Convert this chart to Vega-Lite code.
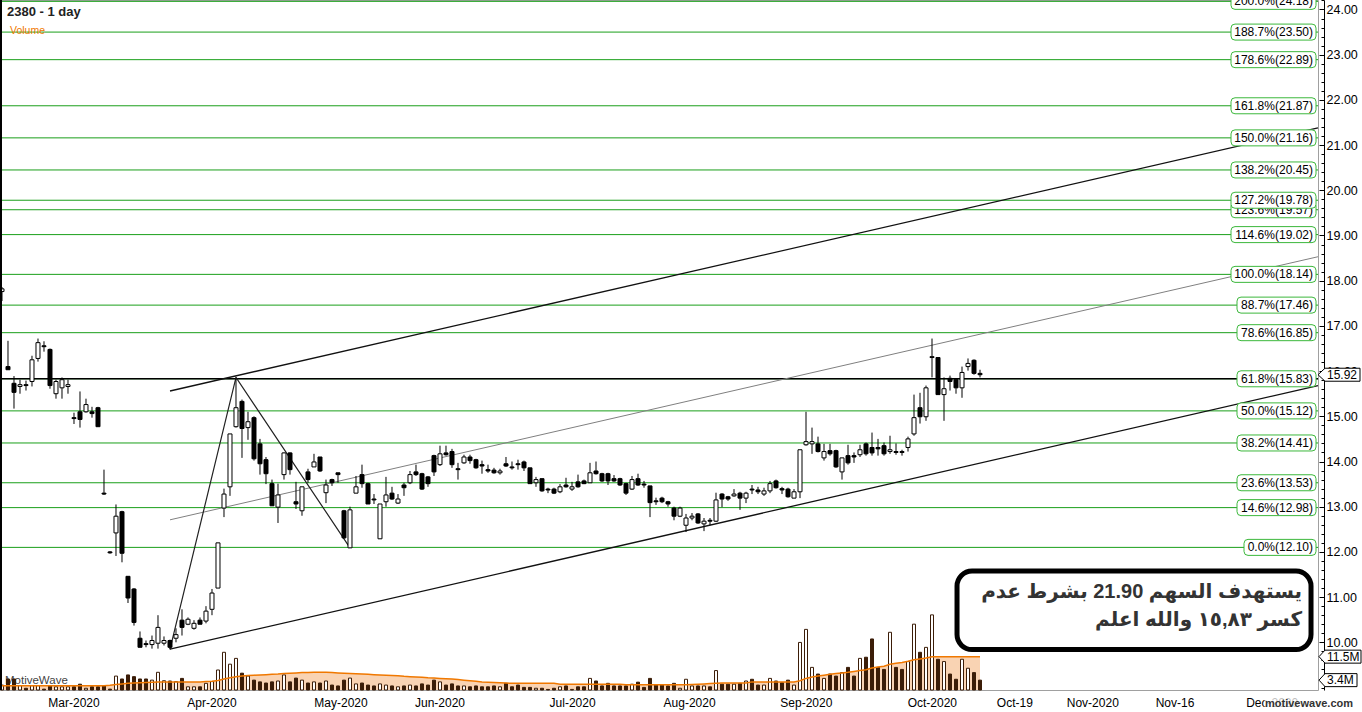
{
"$schema": "https://vega.github.io/schema/vega-lite/v6.json",
"width": 1318, "height": 690,
"autosize": {"type": "none"},
"padding": {"left": 0, "top": 0, "right": 44, "bottom": 22},
"background": "white",
"config": {"font": "Liberation Sans", "view": {"stroke": "#a0a0a0", "strokeWidth": 1}, "scale": {"continuousPadding": 0}},
"datasets": {
"one": [{}],
"bars": [
{"i":0,"o":17.76,"h":17.86,"l":17.55,"c":17.82,"v":1.7,"ma":1.5},
{"i":1,"o":16.10,"h":16.67,"l":16.03,"c":16.03,"v":3.8,"ma":1.5},
{"i":2,"o":15.73,"h":15.89,"l":15.17,"c":15.53,"v":3.8,"ma":1.5},
{"i":3,"o":15.66,"h":15.81,"l":15.50,"c":15.70,"v":1.5,"ma":1.5},
{"i":4,"o":15.70,"h":15.79,"l":15.57,"c":15.68,"v":0.6,"ma":1.5},
{"i":5,"o":15.77,"h":16.34,"l":15.66,"c":16.25,"v":1.5,"ma":1.5},
{"i":6,"o":16.28,"h":16.72,"l":16.21,"c":16.63,"v":1.5,"ma":1.5},
{"i":7,"o":16.56,"h":16.66,"l":16.43,"c":16.54,"v":0.3,"ma":1.5},
{"i":8,"o":16.48,"h":16.50,"l":15.61,"c":15.68,"v":1.5,"ma":1.5},
{"i":9,"o":15.50,"h":15.81,"l":15.39,"c":15.77,"v":1.1,"ma":1.5},
{"i":10,"o":15.63,"h":15.86,"l":15.39,"c":15.81,"v":1.1,"ma":1.5},
{"i":11,"o":15.66,"h":15.81,"l":15.50,"c":15.70,"v":1.1,"ma":1.5},
{"i":12,"o":14.97,"h":15.08,"l":14.83,"c":14.95,"v":1.1,"ma":1.5},
{"i":13,"o":15.10,"h":15.55,"l":14.75,"c":14.93,"v":2.0,"ma":1.5},
{"i":14,"o":15.10,"h":15.39,"l":15.08,"c":15.26,"v":0.6,"ma":1.5},
{"i":15,"o":15.10,"h":15.21,"l":14.97,"c":15.06,"v":1.1,"ma":1.5},
{"i":16,"o":15.19,"h":15.21,"l":14.77,"c":14.77,"v":1.1,"ma":1.5},
{"i":17,"o":13.30,"h":13.82,"l":13.26,"c":13.28,"v":1.5,"ma":1.5},
{"i":18,"o":12.00,"h":12.02,"l":11.96,"c":11.98,"v":0.3,"ma":1.6},
{"i":19,"o":12.42,"h":13.05,"l":11.91,"c":12.79,"v":4.8,"ma":1.9},
{"i":20,"o":12.89,"h":12.91,"l":11.77,"c":11.97,"v":3.8,"ma":2.1},
{"i":21,"o":11.46,"h":11.46,"l":10.87,"c":10.98,"v":5.2,"ma":2.3},
{"i":22,"o":11.18,"h":11.20,"l":10.37,"c":10.44,"v":4.6,"ma":2.4},
{"i":23,"o":10.09,"h":10.24,"l":9.89,"c":9.89,"v":3.8,"ma":2.5},
{"i":24,"o":9.97,"h":10.04,"l":9.89,"c":9.95,"v":3.8,"ma":2.6},
{"i":25,"o":9.95,"h":10.15,"l":9.86,"c":10.04,"v":3.4,"ma":2.7},
{"i":26,"o":9.98,"h":10.60,"l":9.86,"c":10.33,"v":6.1,"ma":2.8},
{"i":27,"o":9.98,"h":10.13,"l":9.93,"c":10.04,"v":3.2,"ma":2.8},
{"i":28,"o":10.04,"h":10.06,"l":9.84,"c":9.89,"v":3.1,"ma":2.8},
{"i":29,"o":10.09,"h":10.31,"l":10.00,"c":10.17,"v":2.9,"ma":2.8},
{"i":30,"o":10.49,"h":10.73,"l":10.15,"c":10.33,"v":4.0,"ma":2.8},
{"i":31,"o":10.40,"h":10.55,"l":10.38,"c":10.51,"v":1.1,"ma":2.8},
{"i":32,"o":10.31,"h":10.49,"l":10.28,"c":10.42,"v":1.1,"ma":2.8},
{"i":33,"o":10.49,"h":10.55,"l":10.40,"c":10.40,"v":1.1,"ma":2.8},
{"i":34,"o":10.47,"h":10.80,"l":10.42,"c":10.69,"v":2.3,"ma":2.9},
{"i":35,"o":10.73,"h":11.18,"l":10.60,"c":11.09,"v":2.9,"ma":3.0},
{"i":36,"o":11.20,"h":12.20,"l":11.20,"c":12.20,"v":6.9,"ma":3.3},
{"i":37,"o":12.97,"h":13.40,"l":12.77,"c":13.28,"v":13.0,"ma":3.8},
{"i":38,"o":13.44,"h":14.61,"l":13.24,"c":14.61,"v":8.9,"ma":4.2},
{"i":39,"o":14.77,"h":15.86,"l":14.75,"c":15.19,"v":10.9,"ma":4.6},
{"i":40,"o":15.33,"h":15.37,"l":14.08,"c":14.73,"v":5.8,"ma":4.8},
{"i":41,"o":14.75,"h":15.10,"l":14.48,"c":14.88,"v":4.8,"ma":5.0},
{"i":42,"o":14.97,"h":15.00,"l":14.02,"c":14.06,"v":3.4,"ma":5.1},
{"i":43,"o":14.39,"h":14.50,"l":13.71,"c":13.95,"v":2.8,"ma":5.2},
{"i":44,"o":14.04,"h":14.10,"l":13.50,"c":13.73,"v":2.4,"ma":5.3},
{"i":45,"o":13.51,"h":13.60,"l":13.02,"c":13.02,"v":2.8,"ma":5.4},
{"i":46,"o":12.99,"h":13.51,"l":12.64,"c":13.26,"v":3.1,"ma":5.5},
{"i":47,"o":13.71,"h":14.20,"l":13.60,"c":14.19,"v":5.2,"ma":5.7},
{"i":48,"o":14.19,"h":14.20,"l":13.71,"c":13.82,"v":2.8,"ma":5.8},
{"i":49,"o":13.11,"h":13.55,"l":12.95,"c":13.06,"v":4.1,"ma":5.9},
{"i":50,"o":12.91,"h":13.44,"l":12.80,"c":13.44,"v":3.4,"ma":6.0},
{"i":51,"o":13.77,"h":13.84,"l":13.53,"c":13.60,"v":2.4,"ma":6.0},
{"i":52,"o":13.88,"h":14.17,"l":13.88,"c":13.99,"v":2.8,"ma":6.1},
{"i":53,"o":14.10,"h":14.10,"l":13.77,"c":13.79,"v":2.4,"ma":6.1},
{"i":54,"o":13.31,"h":13.60,"l":13.08,"c":13.48,"v":3.1,"ma":6.1},
{"i":55,"o":13.60,"h":13.62,"l":13.46,"c":13.53,"v":1.7,"ma":6.0},
{"i":56,"o":13.75,"h":13.75,"l":13.53,"c":13.71,"v":1.4,"ma":5.9},
{"i":57,"o":12.91,"h":12.93,"l":12.29,"c":12.31,"v":3.4,"ma":5.8},
{"i":58,"o":12.09,"h":13.00,"l":12.09,"c":12.93,"v":4.1,"ma":5.7},
{"i":59,"o":13.30,"h":13.68,"l":13.30,"c":13.44,"v":2.1,"ma":5.6},
{"i":60,"o":13.71,"h":13.93,"l":13.42,"c":13.51,"v":2.4,"ma":5.5},
{"i":61,"o":13.51,"h":13.53,"l":13.06,"c":13.06,"v":1.7,"ma":5.4},
{"i":62,"o":13.17,"h":13.28,"l":13.06,"c":13.15,"v":1.4,"ma":5.3},
{"i":63,"o":12.29,"h":13.06,"l":12.29,"c":13.06,"v":2.1,"ma":5.2},
{"i":64,"o":13.11,"h":13.66,"l":13.00,"c":13.26,"v":1.7,"ma":5.1},
{"i":65,"o":13.30,"h":13.44,"l":13.15,"c":13.17,"v":1.4,"ma":5.0},
{"i":66,"o":13.08,"h":13.28,"l":13.06,"c":13.17,"v":1.1,"ma":4.9},
{"i":67,"o":13.48,"h":13.53,"l":13.24,"c":13.42,"v":1.4,"ma":4.7},
{"i":68,"o":13.53,"h":13.79,"l":13.50,"c":13.71,"v":1.7,"ma":4.6},
{"i":69,"o":13.77,"h":13.93,"l":13.68,"c":13.71,"v":1.4,"ma":4.5},
{"i":70,"o":13.73,"h":13.75,"l":13.37,"c":13.39,"v":2.1,"ma":4.4},
{"i":71,"o":13.66,"h":13.68,"l":13.44,"c":13.51,"v":1.7,"ma":4.2},
{"i":72,"o":14.13,"h":14.15,"l":13.68,"c":13.77,"v":3.4,"ma":4.1},
{"i":73,"o":13.93,"h":14.35,"l":13.90,"c":14.17,"v":2.8,"ma":4.0},
{"i":74,"o":14.19,"h":14.35,"l":14.13,"c":14.15,"v":1.7,"ma":3.9},
{"i":75,"o":14.22,"h":14.28,"l":13.86,"c":13.93,"v":2.1,"ma":3.8},
{"i":76,"o":13.84,"h":13.97,"l":13.60,"c":13.82,"v":1.4,"ma":3.6},
{"i":77,"o":13.97,"h":14.15,"l":13.95,"c":14.10,"v":1.4,"ma":3.4},
{"i":78,"o":14.10,"h":14.15,"l":13.95,"c":14.02,"v":1.1,"ma":3.2},
{"i":79,"o":14.04,"h":14.06,"l":13.84,"c":13.86,"v":1.4,"ma":3.0},
{"i":80,"o":13.93,"h":14.02,"l":13.73,"c":13.90,"v":1.1,"ma":2.8},
{"i":81,"o":13.82,"h":13.93,"l":13.75,"c":13.79,"v":1.1,"ma":2.7},
{"i":82,"o":13.81,"h":13.86,"l":13.73,"c":13.75,"v":1.4,"ma":2.6},
{"i":83,"o":13.75,"h":13.84,"l":13.71,"c":13.79,"v":1.1,"ma":2.5},
{"i":84,"o":13.95,"h":14.10,"l":13.88,"c":13.90,"v":2.3,"ma":2.4},
{"i":85,"o":13.88,"h":14.00,"l":13.82,"c":13.86,"v":1.1,"ma":2.3},
{"i":86,"o":13.95,"h":14.04,"l":13.82,"c":13.93,"v":1.7,"ma":2.3},
{"i":87,"o":13.99,"h":14.02,"l":13.79,"c":13.86,"v":0.9,"ma":2.3},
{"i":88,"o":13.86,"h":13.86,"l":13.51,"c":13.51,"v":0.9,"ma":2.3},
{"i":89,"o":13.53,"h":13.66,"l":13.44,"c":13.60,"v":0.6,"ma":2.3},
{"i":90,"o":13.62,"h":13.62,"l":13.33,"c":13.35,"v":0.6,"ma":2.3},
{"i":91,"o":13.39,"h":13.42,"l":13.30,"c":13.37,"v":0.2,"ma":2.3},
{"i":92,"o":13.39,"h":13.42,"l":13.28,"c":13.30,"v":0.6,"ma":2.3},
{"i":93,"o":13.33,"h":13.50,"l":13.30,"c":13.44,"v":1.1,"ma":2.0},
{"i":94,"o":13.48,"h":13.64,"l":13.42,"c":13.44,"v":1.4,"ma":2.0},
{"i":95,"o":13.39,"h":13.55,"l":13.35,"c":13.44,"v":0.2,"ma":2.0},
{"i":96,"o":13.55,"h":13.71,"l":13.42,"c":13.44,"v":1.1,"ma":2.0},
{"i":97,"o":13.57,"h":13.60,"l":13.50,"c":13.51,"v":1.1,"ma":2.0},
{"i":98,"o":13.53,"h":13.97,"l":13.53,"c":13.75,"v":4.0,"ma":2.0},
{"i":99,"o":13.79,"h":14.00,"l":13.71,"c":13.73,"v":3.1,"ma":2.0},
{"i":100,"o":13.73,"h":13.75,"l":13.55,"c":13.57,"v":1.4,"ma":2.0},
{"i":101,"o":13.73,"h":13.75,"l":13.48,"c":13.57,"v":2.3,"ma":2.0},
{"i":102,"o":13.62,"h":13.70,"l":13.55,"c":13.57,"v":1.4,"ma":2.0},
{"i":103,"o":13.62,"h":13.64,"l":13.46,"c":13.48,"v":1.4,"ma":2.0},
{"i":104,"o":13.51,"h":13.53,"l":13.26,"c":13.30,"v":1.4,"ma":1.8},
{"i":105,"o":13.39,"h":13.68,"l":13.37,"c":13.60,"v":2.0,"ma":1.8},
{"i":106,"o":13.62,"h":13.73,"l":13.46,"c":13.48,"v":2.7,"ma":1.8},
{"i":107,"o":13.50,"h":13.57,"l":13.42,"c":13.48,"v":0.9,"ma":1.8},
{"i":108,"o":13.46,"h":13.46,"l":12.77,"c":13.09,"v":4.0,"ma":1.8},
{"i":109,"o":13.13,"h":13.20,"l":13.04,"c":13.11,"v":1.7,"ma":1.8},
{"i":110,"o":13.19,"h":13.22,"l":13.08,"c":13.11,"v":1.7,"ma":1.8},
{"i":111,"o":13.11,"h":13.13,"l":13.00,"c":13.06,"v":1.4,"ma":1.8},
{"i":112,"o":12.97,"h":13.00,"l":12.70,"c":12.79,"v":2.3,"ma":1.8},
{"i":113,"o":12.79,"h":13.00,"l":12.77,"c":12.97,"v":0.6,"ma":1.8},
{"i":114,"o":12.59,"h":12.84,"l":12.44,"c":12.75,"v":3.7,"ma":1.8},
{"i":115,"o":12.75,"h":12.86,"l":12.70,"c":12.79,"v":1.4,"ma":1.9},
{"i":116,"o":12.84,"h":12.86,"l":12.62,"c":12.64,"v":1.4,"ma":2.0},
{"i":117,"o":12.62,"h":12.75,"l":12.46,"c":12.68,"v":1.4,"ma":2.1},
{"i":118,"o":12.70,"h":12.75,"l":12.59,"c":12.68,"v":1.1,"ma":2.2},
{"i":119,"o":12.68,"h":13.31,"l":12.66,"c":13.15,"v":6.7,"ma":2.3},
{"i":120,"o":13.28,"h":13.30,"l":12.99,"c":13.17,"v":2.0,"ma":2.4},
{"i":121,"o":13.22,"h":13.24,"l":13.13,"c":13.17,"v":2.0,"ma":2.4},
{"i":122,"o":13.24,"h":13.39,"l":13.22,"c":13.28,"v":2.0,"ma":2.4},
{"i":123,"o":13.30,"h":13.33,"l":12.93,"c":13.19,"v":2.3,"ma":2.4},
{"i":124,"o":13.19,"h":13.33,"l":13.08,"c":13.30,"v":3.1,"ma":2.4},
{"i":125,"o":13.39,"h":13.48,"l":13.28,"c":13.37,"v":3.7,"ma":2.8},
{"i":126,"o":13.37,"h":13.44,"l":13.28,"c":13.33,"v":1.7,"ma":2.8},
{"i":127,"o":13.28,"h":13.42,"l":13.24,"c":13.35,"v":1.7,"ma":2.8},
{"i":128,"o":13.35,"h":13.57,"l":13.30,"c":13.51,"v":4.0,"ma":2.8},
{"i":129,"o":13.57,"h":13.60,"l":13.40,"c":13.42,"v":3.1,"ma":2.8},
{"i":130,"o":13.40,"h":13.44,"l":13.28,"c":13.37,"v":2.5,"ma":2.8},
{"i":131,"o":13.39,"h":13.42,"l":13.20,"c":13.22,"v":3.4,"ma":2.8},
{"i":132,"o":13.19,"h":13.39,"l":13.19,"c":13.33,"v":1.7,"ma":2.8},
{"i":133,"o":13.33,"h":14.26,"l":13.19,"c":14.26,"v":16.4,"ma":3.2},
{"i":134,"o":14.37,"h":15.10,"l":14.35,"c":14.44,"v":20.9,"ma":4.0},
{"i":135,"o":14.39,"h":14.75,"l":14.17,"c":14.44,"v":7.8,"ma":4.5},
{"i":136,"o":14.39,"h":14.55,"l":14.20,"c":14.22,"v":5.5,"ma":4.8},
{"i":137,"o":14.08,"h":14.39,"l":14.02,"c":14.22,"v":4.0,"ma":5.1},
{"i":138,"o":14.24,"h":14.39,"l":14.13,"c":14.17,"v":5.5,"ma":5.4},
{"i":139,"o":14.24,"h":14.26,"l":13.86,"c":13.88,"v":4.8,"ma":5.7},
{"i":140,"o":13.77,"h":14.08,"l":13.60,"c":14.08,"v":6.0,"ma":5.9},
{"i":141,"o":14.13,"h":14.37,"l":13.93,"c":13.97,"v":7.8,"ma":6.1},
{"i":142,"o":14.13,"h":14.20,"l":13.97,"c":14.10,"v":4.8,"ma":6.4},
{"i":143,"o":14.15,"h":14.37,"l":14.10,"c":14.26,"v":10.9,"ma":6.7},
{"i":144,"o":14.39,"h":14.42,"l":14.13,"c":14.17,"v":11.3,"ma":7.0},
{"i":145,"o":14.31,"h":14.64,"l":14.13,"c":14.19,"v":17.6,"ma":7.6},
{"i":146,"o":14.31,"h":14.50,"l":14.13,"c":14.28,"v":7.8,"ma":7.9},
{"i":147,"o":14.35,"h":14.42,"l":14.13,"c":14.17,"v":7.1,"ma":8.2},
{"i":148,"o":14.22,"h":14.57,"l":14.17,"c":14.26,"v":19.9,"ma":8.9},
{"i":149,"o":14.22,"h":14.40,"l":14.15,"c":14.20,"v":7.8,"ma":9.2},
{"i":150,"o":14.22,"h":14.26,"l":14.13,"c":14.20,"v":7.1,"ma":9.5},
{"i":151,"o":14.31,"h":14.55,"l":14.22,"c":14.50,"v":9.8,"ma":9.9},
{"i":152,"o":14.61,"h":15.48,"l":14.57,"c":14.97,"v":22.7,"ma":10.4},
{"i":153,"o":15.19,"h":15.52,"l":14.84,"c":14.99,"v":13.0,"ma":10.7},
{"i":154,"o":14.99,"h":15.68,"l":14.90,"c":15.63,"v":14.7,"ma":11.0},
{"i":155,"o":16.30,"h":16.72,"l":15.86,"c":16.32,"v":25.9,"ma":11.5},
{"i":156,"o":16.30,"h":16.30,"l":15.48,"c":15.48,"v":10.6,"ma":11.5},
{"i":157,"o":15.48,"h":15.86,"l":14.90,"c":15.61,"v":9.8,"ma":11.5},
{"i":158,"o":15.84,"h":15.90,"l":15.57,"c":15.77,"v":5.5,"ma":11.5},
{"i":159,"o":15.81,"h":15.81,"l":15.50,"c":15.63,"v":3.7,"ma":11.5},
{"i":160,"o":15.63,"h":16.10,"l":15.41,"c":15.97,"v":10.6,"ma":11.5},
{"i":161,"o":16.10,"h":16.28,"l":16.01,"c":16.17,"v":7.5,"ma":11.5},
{"i":162,"o":16.24,"h":16.26,"l":15.92,"c":15.95,"v":6.0,"ma":11.5},
{"i":163,"o":15.95,"h":16.03,"l":15.86,"c":15.92,"v":3.4,"ma":11.5}
],
"fib": [
{"p":12.10,"label":"0.0%(12.10)"},
{"p":12.98,"label":"14.6%(12.98)"},
{"p":13.53,"label":"23.6%(13.53)"},
{"p":14.41,"label":"38.2%(14.41)"},
{"p":15.12,"label":"50.0%(15.12)"},
{"p":15.83,"label":"61.8%(15.83)"},
{"p":16.85,"label":"78.6%(16.85)"},
{"p":17.46,"label":"88.7%(17.46)"},
{"p":18.14,"label":"100.0%(18.14)"},
{"p":19.02,"label":"114.6%(19.02)"},
{"p":19.57,"label":"123.6%(19.57)"},
{"p":19.78,"label":"127.2%(19.78)"},
{"p":20.45,"label":"138.2%(20.45)"},
{"p":21.16,"label":"150.0%(21.16)"},
{"p":21.87,"label":"161.8%(21.87)"},
{"p":22.89,"label":"178.6%(22.89)"},
{"p":23.50,"label":"188.7%(23.50)"},
{"p":24.18,"label":"200.0%(24.18)"}
],
"chan": [
{"g":"upper","i":28,"p":15.56},{"g":"upper","i":219.33,"p":21.38},
{"g":"lower","i":28,"p":9.85},{"g":"lower","i":219.33,"p":15.68},
{"g":"mid","i":28,"p":12.71},{"g":"mid","i":219.33,"p":18.53}
],
"zig": [{"i":28,"p":9.85},{"i":39,"p":15.86},{"i":58,"p":12.09}],
"ticks": [
{"t":12,"lab":"Mar-2020"},{"t":35,"lab":"Apr-2020"},{"t":56.5,"lab":"May-2020"},{"t":73,"lab":"Jun-2020"},
{"t":95.1,"lab":"Jul-2020"},{"t":114.6,"lab":"Aug-2020"},{"t":134.05,"lab":"Sep-2020"},{"t":155.05,"lab":"Oct-2020"},
{"t":168.8,"lab":"Oct-19"},{"t":181.8,"lab":"Nov-2020"},{"t":195.5,"lab":"Nov-16"},{"t":211.7,"lab":"Dec-2020"}
]
},
"resolve": {"scale": {"y": "independent"}, "axis": {"y": "independent"}},
"layer": [
{
"layer": [
{"data": {"name": "one"},
 "mark": {"type": "text", "text": "MotiveWave", "align": "left", "baseline": "middle", "fontSize": 11.5, "color": "#444"},
 "encoding": {"x": {"datum": 0.5, "type": "quantitative", "axis": null}, "y": {"datum": 3.1, "type": "quantitative", "axis": null}}},
{"data": {"name": "bars"},
 "mark": {"type": "area", "color": "#f9d3b3", "interpolate": "linear"},
 "encoding": {
  "x": {"field": "i", "type": "quantitative",
   "scale": {"domain": [-0.3333, 219.3333], "nice": false, "zero": false, "padding": 0},
   "axis": {"values": [12,35,56.5,73,95.1,114.6,134.05,155.05,168.8,181.8,195.5,211.7],
    "labels": false, "title": null, "grid": false, "offset": 5, "tickSize": -5,
    "domainColor": "#000", "tickColor": "#000"}},
  "y": {"field": "ma", "type": "quantitative", "scale": {"domain": [0, 237.9], "nice": false, "zero": true}, "axis": null}}},
{"data": {"name": "bars"},
 "mark": {"type": "bar", "size": 3, "stroke": "#3b1d08", "strokeWidth": 1},
 "encoding": {
  "x": {"field": "i", "type": "quantitative", "axis": null},
  "y": {"field": "v", "type": "quantitative", "axis": null},
  "fill": {"condition": {"test": "datum.c >= datum.o", "value": "white"}, "value": "#3b1d08"}}},
{"data": {"name": "bars"},
 "mark": {"type": "line", "color": "#f07800", "strokeWidth": 1.5},
 "encoding": {
  "x": {"field": "i", "type": "quantitative", "axis": null},
  "y": {"field": "ma", "type": "quantitative", "axis": null}}},
{"data": {"name": "one"},
 "mark": {"type": "point", "shape": "M1,0 L7,-6.5 L43,-6.5 L43,6.5 L7,6.5 Z", "size": 4, "filled": true, "fill": "white", "stroke": "#000", "strokeWidth": 1, "opacity": 1},
 "encoding": {"x": {"datum": 219.3333, "type": "quantitative", "axis": null}, "y": {"datum": 11.5, "type": "quantitative", "axis": null}}},
{"data": {"name": "one"},
 "mark": {"type": "text", "text": "11.5M", "align": "left", "baseline": "middle", "dx": 9, "fontSize": 12, "color": "#000"},
 "encoding": {"x": {"datum": 219.3333, "type": "quantitative", "axis": null}, "y": {"datum": 11.5, "type": "quantitative", "axis": null}}},
{"data": {"name": "one"},
 "mark": {"type": "point", "shape": "M1,0 L7,-6.5 L39,-6.5 L39,6.5 L7,6.5 Z", "size": 4, "filled": true, "fill": "white", "stroke": "#000", "strokeWidth": 1, "opacity": 1},
 "encoding": {"x": {"datum": 219.3333, "type": "quantitative", "axis": null}, "y": {"datum": 3.4, "type": "quantitative", "axis": null}}},
{"data": {"name": "one"},
 "mark": {"type": "text", "text": "3.4M", "align": "left", "baseline": "middle", "dx": 9, "fontSize": 12, "color": "#000"},
 "encoding": {"x": {"datum": 219.3333, "type": "quantitative", "axis": null}, "y": {"datum": 3.4, "type": "quantitative", "axis": null}}}
]
},
{
"resolve": {"axis": {"y": "independent"}},
"layer": [
{"data": {"name": "fib"},
 "mark": {"type": "rule", "color": "#1a9f1a", "strokeWidth": 1},
 "encoding": {"y": {"field": "p", "type": "quantitative",
   "scale": {"domain": [8.945, 24.21], "nice": false, "zero": false},
   "axis": {"orient": "right", "values": [10,11,12,13,14,15,16,17,18,19,20,21,22,23,24], "format": ".2f",
    "title": null, "grid": false, "offset": 6, "tickSize": -5, "labelPadding": 7,
    "domainColor": "#000", "tickColor": "#000", "labelColor": "#000", "labelFontSize": 12.5,
    "labelBaseline": "middle", "labelFlush": false, "labelOverlap": false, "labelBound": false}}}},
{"data": {"name": "one"},
 "mark": {"type": "rule", "color": "#000", "strokeWidth": 1.6},
 "encoding": {"y": {"datum": 15.83, "type": "quantitative",
   "axis": {"orient": "right", "values": [9,9.2,9.4,9.6,9.8,10,10.2,10.4,10.6,10.8,11,11.2,11.4,11.6,11.8,12,12.2,12.4,12.6,12.8,13,13.2,13.4,13.6,13.8,14,14.2,14.4,14.6,14.8,15,15.2,15.4,15.6,15.8,16,16.2,16.4,16.6,16.8,17,17.2,17.4,17.6,17.8,18,18.2,18.4,18.6,18.8,19,19.2,19.4,19.6,19.8,20,20.2,20.4,20.6,20.8,21,21.2,21.4,21.6,21.8,22,22.2,22.4,22.6,22.8,23,23.2,23.4,23.6,23.8,24,24.2],
    "labels": false, "domain": false, "title": null, "grid": false, "offset": 6, "tickSize": -3, "tickColor": "#000"}}}},
{"data": {"name": "chan"}, "transform": [{"filter": "datum.g != 'mid'"}],
 "mark": {"type": "line", "color": "#111", "strokeWidth": 1.3},
 "encoding": {"x": {"field": "i", "type": "quantitative", "axis": null}, "y": {"field": "p", "type": "quantitative", "axis": null}, "detail": {"field": "g"}}},
{"data": {"name": "chan"}, "transform": [{"filter": "datum.g == 'mid'"}],
 "mark": {"type": "line", "color": "#808080", "strokeWidth": 1},
 "encoding": {"x": {"field": "i", "type": "quantitative", "axis": null}, "y": {"field": "p", "type": "quantitative", "axis": null}}},
{"data": {"name": "zig"},
 "mark": {"type": "line", "color": "#222", "strokeWidth": 1.2},
 "encoding": {"x": {"field": "i", "type": "quantitative", "axis": null}, "y": {"field": "p", "type": "quantitative", "axis": null}}},
{"data": {"name": "bars"},
 "mark": {"type": "rule", "color": "#000", "strokeWidth": 1},
 "encoding": {"x": {"field": "i", "type": "quantitative", "axis": null}, "y": {"field": "l", "type": "quantitative", "axis": null}, "y2": {"field": "h"}}},
{"data": {"name": "bars"},
 "mark": {"type": "bar", "size": 4, "stroke": "#000", "strokeWidth": 1},
 "encoding": {"x": {"field": "i", "type": "quantitative", "axis": null}, "y": {"field": "o", "type": "quantitative", "axis": null}, "y2": {"field": "c"},
  "fill": {"condition": {"test": "datum.c >= datum.o", "value": "white"}, "value": "#000"}}},
{"data": {"name": "fib"}, "transform": [{"filter": "datum.p == 19.57"}],
 "mark": {"type": "point", "shape": "M-81,-8 L-4,-8 Q0,-8 0,-4 L0,4 Q0,8 -4,8 L-81,8 Q-85,8 -85,4 L-85,-4 Q-85,-8 -81,-8 Z", "size": 4, "filled": true, "fill": "white", "stroke": "#3cb83c", "strokeWidth": 1, "opacity": 1, "clip": true},
 "encoding": {"x": {"datum": 219, "type": "quantitative", "axis": null}, "y": {"field": "p", "type": "quantitative", "axis": null}}},
{"data": {"name": "fib"}, "transform": [{"filter": "datum.p == 19.57"}],
 "mark": {"type": "text", "align": "right", "baseline": "middle", "dx": -3, "fontSize": 12, "color": "#000", "clip": true},
 "encoding": {"x": {"datum": 219, "type": "quantitative", "axis": null}, "y": {"field": "p", "type": "quantitative", "axis": null}, "text": {"field": "label"}}},
{"data": {"name": "fib"}, "transform": [{"filter": "length(datum.label) == 13 && datum.p != 19.57"}],
 "mark": {"type": "point", "shape": "M-81,-8 L-4,-8 Q0,-8 0,-4 L0,4 Q0,8 -4,8 L-81,8 Q-85,8 -85,4 L-85,-4 Q-85,-8 -81,-8 Z", "size": 4, "filled": true, "fill": "white", "stroke": "#3cb83c", "strokeWidth": 1, "opacity": 1, "clip": true},
 "encoding": {"x": {"datum": 219, "type": "quantitative", "axis": null}, "y": {"field": "p", "type": "quantitative", "axis": null}}},
{"data": {"name": "fib"}, "transform": [{"filter": "length(datum.label) == 12"}],
 "mark": {"type": "point", "shape": "M-75,-8 L-4,-8 Q0,-8 0,-4 L0,4 Q0,8 -4,8 L-75,8 Q-79,8 -79,4 L-79,-4 Q-79,-8 -75,-8 Z", "size": 4, "filled": true, "fill": "white", "stroke": "#3cb83c", "strokeWidth": 1, "opacity": 1, "clip": true},
 "encoding": {"x": {"datum": 219, "type": "quantitative", "axis": null}, "y": {"field": "p", "type": "quantitative", "axis": null}}},
{"data": {"name": "fib"}, "transform": [{"filter": "length(datum.label) == 11"}],
 "mark": {"type": "point", "shape": "M-68,-8 L-4,-8 Q0,-8 0,-4 L0,4 Q0,8 -4,8 L-68,8 Q-72,8 -72,4 L-72,-4 Q-72,-8 -68,-8 Z", "size": 4, "filled": true, "fill": "white", "stroke": "#3cb83c", "strokeWidth": 1, "opacity": 1, "clip": true},
 "encoding": {"x": {"datum": 219, "type": "quantitative", "axis": null}, "y": {"field": "p", "type": "quantitative", "axis": null}}},
{"data": {"name": "fib"}, "transform": [{"filter": "datum.p != 19.57"}],
 "mark": {"type": "text", "align": "right", "baseline": "middle", "dx": -3, "fontSize": 12, "color": "#000", "clip": true},
 "encoding": {"x": {"datum": 219, "type": "quantitative", "axis": null}, "y": {"field": "p", "type": "quantitative", "axis": null}, "text": {"field": "label"}}},
{"data": {"name": "one"},
 "mark": {"type": "rule", "color": "#000", "strokeWidth": 2},
 "encoding": {"x": {"datum": -0.1667, "type": "quantitative", "axis": null}}},
{"data": {"name": "ticks"},
 "mark": {"type": "text", "baseline": "middle", "align": "center", "fontSize": 12, "color": "#000"},
 "encoding": {"x": {"field": "t", "type": "quantitative", "axis": null}, "y": {"datum": 8.66, "type": "quantitative", "axis": null}, "text": {"field": "lab"}}},
{"data": {"name": "one"},
 "mark": {"type": "point", "shape": "M0,0 L7,-6.5 L42,-6.5 L42,6.5 L7,6.5 Z", "size": 4, "filled": true, "fill": "white", "stroke": "#000", "strokeWidth": 1, "opacity": 1},
 "encoding": {"x": {"datum": 219.3333, "type": "quantitative", "axis": null}, "y": {"datum": 15.92, "type": "quantitative", "axis": null}}},
{"data": {"name": "one"},
 "mark": {"type": "text", "text": "15.92", "align": "left", "baseline": "middle", "dx": 9, "fontSize": 12, "color": "#000"},
 "encoding": {"x": {"datum": 219.3333, "type": "quantitative", "axis": null}, "y": {"datum": 15.92, "type": "quantitative", "axis": null}}},
{"data": {"name": "one"},
 "mark": {"type": "rect", "fill": "white", "stroke": "#000", "strokeWidth": 5, "cornerRadius": 15},
 "encoding": {"x": {"datum": 159.17, "type": "quantitative", "axis": null}, "x2": {"datum": 218.17},
  "y": {"datum": 11.575, "type": "quantitative", "axis": null}, "y2": {"datum": 9.84}}},
{"data": {"name": "one"},
 "mark": {"type": "text", "text": "يستهدف السهم 21.90 بشرط عدم", "align": "right", "baseline": "middle", "font": "Liberation Sans, DejaVu Sans", "fontWeight": "bold", "fontSize": 20, "color": "#333"},
 "encoding": {"x": {"datum": 216.67, "type": "quantitative", "axis": null}, "y": {"datum": 11.113, "type": "quantitative", "axis": null}}},
{"data": {"name": "one"},
 "mark": {"type": "text", "text": "كسر ١٥,٨٣ والله اعلم", "align": "right", "baseline": "middle", "font": "Liberation Sans, DejaVu Sans", "fontWeight": "bold", "fontSize": 20, "color": "#333"},
 "encoding": {"x": {"datum": 216.67, "type": "quantitative", "axis": null}, "y": {"datum": 10.49, "type": "quantitative", "axis": null}}},
{"data": {"name": "one"},
 "mark": {"type": "text", "text": "2380 - 1 day", "align": "left", "baseline": "middle", "fontSize": 13, "fontWeight": "bold", "color": "#222"},
 "encoding": {"x": {"datum": 0.833, "type": "quantitative", "axis": null}, "y": {"datum": 23.945, "type": "quantitative", "axis": null}}},
{"data": {"name": "one"},
 "mark": {"type": "text", "text": "Volume", "align": "left", "baseline": "middle", "fontSize": 10.5, "color": "#f07800"},
 "encoding": {"x": {"datum": 1.333, "type": "quantitative", "axis": null}, "y": {"datum": 23.52, "type": "quantitative", "axis": null}}},
{"data": {"name": "one"},
 "mark": {"type": "rect", "fill": "white", "opacity": 0.75},
 "encoding": {"x": {"datum": 210.4, "type": "quantitative", "axis": null}, "x2": {"datum": 226.7},
  "y": {"datum": 8.79, "type": "quantitative", "axis": null}, "y2": {"datum": 8.45}}},
{"data": {"name": "one"},
 "mark": {"type": "text", "text": "motivewave.com", "align": "left", "baseline": "middle", "fontSize": 11, "fontWeight": "bold", "color": "#333"},
 "encoding": {"x": {"datum": 210.5, "type": "quantitative", "axis": null}, "y": {"datum": 8.635, "type": "quantitative", "axis": null}}}
]
}
]
}
